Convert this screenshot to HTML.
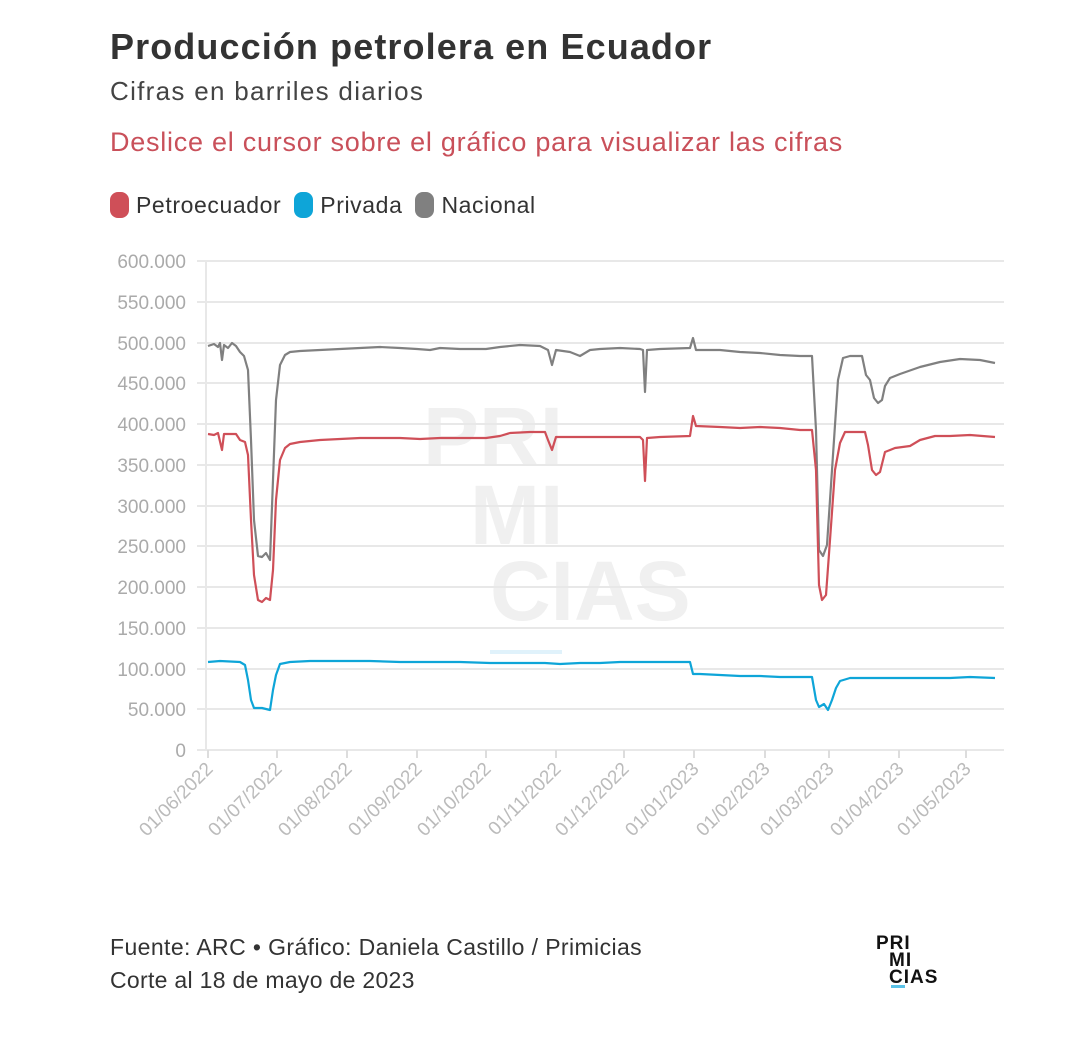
<!DOCTYPE html>
<html><head><meta charset="utf-8"><style>
body{margin:0;width:1080px;height:1046px;background:#fff;font-family:"Liberation Sans",sans-serif;position:relative;overflow:hidden}
.t{position:absolute;left:110px;white-space:nowrap}
</style></head><body>
<div class="t" style="top:26px;font-size:36px;font-weight:bold;color:#333;letter-spacing:1.1px">Producción petrolera en Ecuador</div>
<div class="t" style="top:76px;font-size:26px;color:#444;letter-spacing:1.3px">Cifras en barriles diarios</div>
<div class="t" style="top:127px;font-size:27px;color:#c9505a;letter-spacing:0.75px">Deslice el cursor sobre el gráfico para visualizar las cifras</div>
<div class="t" style="top:192px;font-size:23px;color:#333;letter-spacing:0.6px">
<span style="display:inline-block;width:19px;height:26px;border-radius:8px;background:#cf4f58;vertical-align:-5px"></span> Petroecuador
<span style="display:inline-block;width:19px;height:26px;border-radius:8px;background:#0ea5d8;vertical-align:-5px;margin-left:6px"></span> Privada
<span style="display:inline-block;width:19px;height:26px;border-radius:8px;background:#808080;vertical-align:-5px;margin-left:6px"></span> Nacional</div>
<svg width="1080" height="1046" style="position:absolute;left:0;top:0">
<g font-family="Liberation Sans" font-size="84" font-weight="bold" fill="#f0f0f0">
<text x="423" y="466">PRI</text><text x="470" y="544">MI</text><text x="490" y="620">CIAS</text>
</g>
<g stroke="#e8e8e8" stroke-width="2">
<line x1="197" y1="261" x2="1004" y2="261"/><line x1="197" y1="302" x2="1004" y2="302"/><line x1="197" y1="343" x2="1004" y2="343"/><line x1="197" y1="383" x2="1004" y2="383"/><line x1="197" y1="424" x2="1004" y2="424"/><line x1="197" y1="465" x2="1004" y2="465"/><line x1="197" y1="506" x2="1004" y2="506"/><line x1="197" y1="546" x2="1004" y2="546"/><line x1="197" y1="587" x2="1004" y2="587"/><line x1="197" y1="628" x2="1004" y2="628"/><line x1="197" y1="669" x2="1004" y2="669"/><line x1="197" y1="709" x2="1004" y2="709"/><line x1="197" y1="750" x2="1004" y2="750"/>
<line x1="206" y1="261" x2="206" y2="750"/>
</g>
<g font-size="19" fill="#aaa" text-anchor="end">
<text x="186" y="268">600.000</text><text x="186" y="309">550.000</text><text x="186" y="350">500.000</text><text x="186" y="390">450.000</text><text x="186" y="431">400.000</text><text x="186" y="472">350.000</text><text x="186" y="513">300.000</text><text x="186" y="553">250.000</text><text x="186" y="594">200.000</text><text x="186" y="635">150.000</text><text x="186" y="676">100.000</text><text x="186" y="716">50.000</text><text x="186" y="757">0</text>
</g>
<g stroke="#ddd" stroke-width="2">
<line x1="208" y1="750" x2="208" y2="758"/><line x1="277" y1="750" x2="277" y2="758"/><line x1="347" y1="750" x2="347" y2="758"/><line x1="417" y1="750" x2="417" y2="758"/><line x1="486" y1="750" x2="486" y2="758"/><line x1="556" y1="750" x2="556" y2="758"/><line x1="624" y1="750" x2="624" y2="758"/><line x1="694" y1="750" x2="694" y2="758"/><line x1="765" y1="750" x2="765" y2="758"/><line x1="829" y1="750" x2="829" y2="758"/><line x1="899" y1="750" x2="899" y2="758"/><line x1="966" y1="750" x2="966" y2="758"/>
</g>
<g font-size="19" fill="#bbb" text-anchor="end">
<text transform="translate(214,770) rotate(-45)">01/06/2022</text>
<text transform="translate(283,770) rotate(-45)">01/07/2022</text>
<text transform="translate(353,770) rotate(-45)">01/08/2022</text>
<text transform="translate(423,770) rotate(-45)">01/09/2022</text>
<text transform="translate(492,770) rotate(-45)">01/10/2022</text>
<text transform="translate(562,770) rotate(-45)">01/11/2022</text>
<text transform="translate(630,770) rotate(-45)">01/12/2022</text>
<text transform="translate(700,770) rotate(-45)">01/01/2023</text>
<text transform="translate(771,770) rotate(-45)">01/02/2023</text>
<text transform="translate(835,770) rotate(-45)">01/03/2023</text>
<text transform="translate(905,770) rotate(-45)">01/04/2023</text>
<text transform="translate(972,770) rotate(-45)">01/05/2023</text>
</g>
<g fill="none" stroke-width="2.2" stroke-linejoin="round">
<polyline stroke="#808080" points="208,346 214,344 218,347 220,343 222,360 224,345 228,348 232,343 236,346 240,352 244,356 248,370 251,440 254,520 258,556 262,557 266,553 270,560 273,480 276,400 280,365 285,355 290,352 300,351 320,350 340,349 360,348 380,347 400,348 417,349 430,350 440,348 460,349 486,349 500,347 520,345 540,346 548,350 552,365 556,350 570,352 580,356 590,350 600,349 620,348 640,349 643,350 645,392 647,350 660,349 690,348 693,338 696,350 720,350 740,352 760,353 780,355 800,356 812,356 816,430 819,550 823,556 827,545 832,470 838,380 843,358 850,356 862,356 866,375 870,380 874,398 878,403 882,400 885,386 890,378 900,374 920,367 940,362 960,359 980,360 995,363"/>
<polyline stroke="#cf4f58" points="208,434 214,435 218,433 222,450 224,434 230,434 236,434 240,440 245,442 248,455 251,520 254,575 258,600 262,602 266,598 270,600 273,570 276,500 280,460 285,448 290,444 300,442 320,440 340,439 360,438 380,438 400,438 420,439 440,438 460,438 486,438 500,436 510,433 530,432 545,432 548,440 552,450 556,437 570,437 590,437 610,437 640,437 643,440 645,481 647,438 660,437 690,436 693,416 696,426 720,427 740,428 760,427 780,428 800,430 812,430 816,470 819,585 822,600 826,595 830,540 835,470 840,443 845,432 865,432 868,445 872,470 876,475 880,472 885,452 895,448 910,446 920,440 935,436 950,436 970,435 995,437"/>
<polyline stroke="#0ea5d8" points="208,662 220,661 240,662 245,665 248,680 251,700 254,708 262,708 266,709 270,710 273,690 276,675 280,664 290,662 310,661 340,661 370,661 400,662 430,662 460,662 490,663 520,663 545,663 560,664 580,663 600,663 620,662 650,662 690,662 693,674 700,674 720,675 740,676 760,676 780,677 800,677 812,677 816,700 819,707 824,704 828,710 832,700 836,688 840,681 850,678 870,678 890,678 910,678 930,678 950,678 970,677 995,678"/>
</g>
<rect x="490" y="650" width="72" height="4" fill="#e0f2fb"/>
<g font-family="Liberation Sans" font-weight="bold" font-size="19" fill="#111" letter-spacing="1">
<text x="876" y="949">PRI</text><text x="889" y="966">MI</text><text x="889" y="983">CIAS</text>
</g>
<rect x="891" y="985" width="14" height="3" fill="#5bc2e7"/>
</svg>
<div class="t" style="top:934px;font-size:23px;color:#333;letter-spacing:0.4px">Fuente: ARC • Gráfico: Daniela Castillo / Primicias</div>
<div class="t" style="top:967px;font-size:23px;color:#333;letter-spacing:0.3px">Corte al 18 de mayo de 2023</div>
</body></html>
